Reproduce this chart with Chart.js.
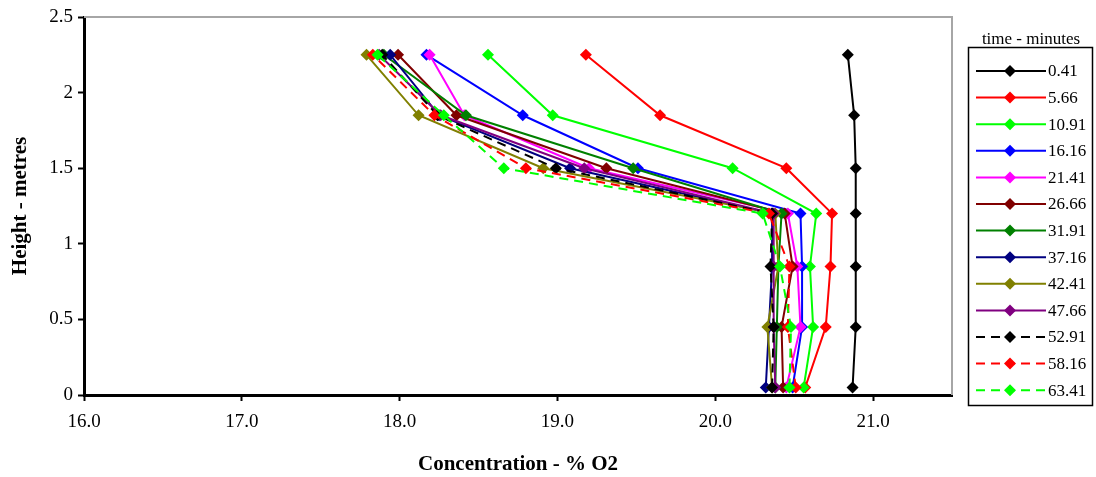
<!DOCTYPE html>
<html>
<head>
<meta charset="utf-8">
<script src="https://cdn.jsdelivr.net/npm/chart.js@4"></script>
<style>
  html, body { margin: 0; padding: 0; background: #fff; }
  #wrap { width: 1096px; height: 477px; }
</style>
</head>
<body>
<div id="wrap"><canvas id="chart"></canvas></div>
<script>
// heights of the sensors (metres)
const heights = [0.05, 0.45, 0.85, 1.2, 1.5, 1.85, 2.25];

// % O2 at each height, one array per time (minutes)
const t0_41  = [20.87, 20.89, 20.89, 20.89, 20.89, 20.88, 20.84];
const t5_66  = [20.57, 20.70, 20.73, 20.74, 20.45, 19.65, 19.18];
const t10_91 = [20.56, 20.62, 20.60, 20.64, 20.11, 18.97, 18.56];
const t16_16 = [20.49, 20.55, 20.55, 20.54, 19.51, 18.78, 18.17];
const t21_41 = [20.45, 20.54, 20.52, 20.46, 19.20, 18.41, 18.19];
const t26_66 = [20.43, 20.42, 20.49, 20.44, 19.31, 18.36, 17.99];
const t31_91 = [20.38, 20.39, 20.40, 20.42, 19.48, 18.42, 17.90];
const t37_16 = [20.32, 20.34, 20.36, 20.36, 19.08, 18.25, 17.94];
const t42_41 = [20.36, 20.33, 20.40, 20.38, 18.91, 18.12, 17.79];
const t47_66 = [20.38, 20.37, 20.37, 20.37, 19.17, 18.26, 17.87];
const t52_91 = [20.36, 20.37, 20.35, 20.36, 18.99, 18.24, 17.89];
const t58_16 = [20.51, 20.46, 20.47, 20.34, 18.80, 18.22, 17.83];
const t63_41 = [20.47, 20.48, 20.41, 20.30, 18.66, 18.28, 17.86];

const timeLabels = ['0.41', '5.66', '10.91', '16.16', '21.41', '26.66', '31.91',
                    '37.16', '42.41', '47.66', '52.91', '58.16', '63.41'];
const seriesValues = [t0_41, t5_66, t10_91, t16_16, t21_41, t26_66, t31_91,
                      t37_16, t42_41, t47_66, t52_91, t58_16, t63_41];

const xTicks = [16, 17, 18, 19, 20, 21];

const colors = ['#000000', '#ff0000', '#00ff00', '#0000ff', '#ff00ff', '#800000', '#008000',
                '#000080', '#808000', '#800080', '#000000', '#ff0000', '#00ff00'];
const dashed = [false, false, false, false, false, false, false,
                false, false, false, true, true, true];

const FONT = '"Liberation Serif", "Times New Roman", serif';
Chart.defaults.font.family = FONT;
Chart.defaults.color = '#000';

const datasets = seriesValues.map((vals, i) => ({
  label: timeLabels[i],
  data: vals.map((v, k) => ({ x: v, y: heights[k] })),
  showLine: true,
  borderColor: colors[i],
  backgroundColor: colors[i],
  borderWidth: 2,
  borderDash: dashed[i] ? [9, 6] : [],
  pointStyle: 'rectRot',
  pointRadius: 6,
  pointHoverRadius: 6,
  pointBorderWidth: 0,
  order: seriesValues.length - i, // later series on top, like the original
}));

function diamond(ctx, x, y, r, color) {
  ctx.fillStyle = color;
  ctx.beginPath();
  ctx.moveTo(x, y - r);
  ctx.lineTo(x + r, y);
  ctx.lineTo(x, y + r);
  ctx.lineTo(x - r, y);
  ctx.closePath();
  ctx.fill();
}

// grey top/right edge of the plot
const framePlugin = {
  id: 'frame',
  beforeDatasetsDraw(chart) {
    const { ctx, chartArea: a } = chart;
    ctx.save();
    ctx.strokeStyle = '#a6a6a6';
    ctx.lineWidth = 2;
    ctx.beginPath();
    ctx.moveTo(a.left, a.top);
    ctx.lineTo(a.right, a.top);
    ctx.lineTo(a.right, a.bottom);
    ctx.stroke();
    ctx.restore();
  }
};

// boxed legend on the right with its title
const sideLegend = {
  id: 'sideLegend',
  afterDraw(chart) {
    const ctx = chart.ctx;
    ctx.save();
    ctx.fillStyle = '#000';
    ctx.textBaseline = 'middle';
    ctx.textAlign = 'center';
    ctx.font = '17px ' + FONT;
    ctx.fillText('time - minutes', 1031, 40);
    ctx.strokeStyle = '#000';
    ctx.lineWidth = 1.5;
    ctx.strokeRect(968.5, 47.5, 124, 358);
    ctx.textAlign = 'left';
    chart.data.datasets.forEach((ds, i) => {
      const y = 71 + i * 26.6;
      ctx.strokeStyle = ds.borderColor;
      ctx.lineWidth = 2;
      ctx.setLineDash(ds.borderDash);
      ctx.beginPath();
      ctx.moveTo(976, y);
      ctx.lineTo(1046, y);
      ctx.stroke();
      ctx.setLineDash([]);
      diamond(ctx, 1010, y, 6, ds.backgroundColor);
      ctx.fillStyle = '#000';
      ctx.fillText(ds.label, 1048, y + 1);
    });
    ctx.restore();
  }
};

new Chart(document.getElementById('chart'), {
  type: 'scatter',
  data: { datasets },
  plugins: [framePlugin, sideLegend],
  options: {
    responsive: true,
    maintainAspectRatio: false,
    animation: false,
    layout: { padding: { top: 17, right: 144, left: 0, bottom: 0 } },
    plugins: { legend: { display: false }, tooltip: { enabled: false } },
    scales: {
      x: {
        type: 'linear',
        min: 16,
        max: 21.5,
        afterFit: (s) => { s.height = 82; },
        afterBuildTicks: (s) => { s.ticks = xTicks.map((v) => ({ value: v })); },
        ticks: {
          font: { size: 19 },
          padding: 10,
          maxRotation: 0,
          callback: (v) => Number(v).toFixed(1),
        },
        grid: { drawOnChartArea: false, tickLength: 6, tickWidth: 2, tickColor: '#000' },
        border: { color: '#000', width: 3 },
        title: {
          display: true,
          text: 'Concentration - % O2',
          font: { size: 21, weight: 'bold' },
          padding: { top: 0, bottom: 0 },
        },
      },
      y: {
        type: 'linear',
        min: 0,
        max: 2.5,
        afterFit: (s) => { s.width = 84; },
        ticks: {
          stepSize: 0.5,
          font: { size: 19 },
          padding: 5,
          callback: (v) => String(Math.round(v * 10) / 10),
        },
        grid: { drawOnChartArea: false, tickLength: 6, tickWidth: 2, tickColor: '#000' },
        border: { color: '#000', width: 3 },
        title: {
          display: true,
          text: 'Height - metres',
          font: { size: 21, weight: 'bold' },
          padding: { top: 8, bottom: 0 },
        },
      },
    },
  },
});
</script>
</body>
</html>
